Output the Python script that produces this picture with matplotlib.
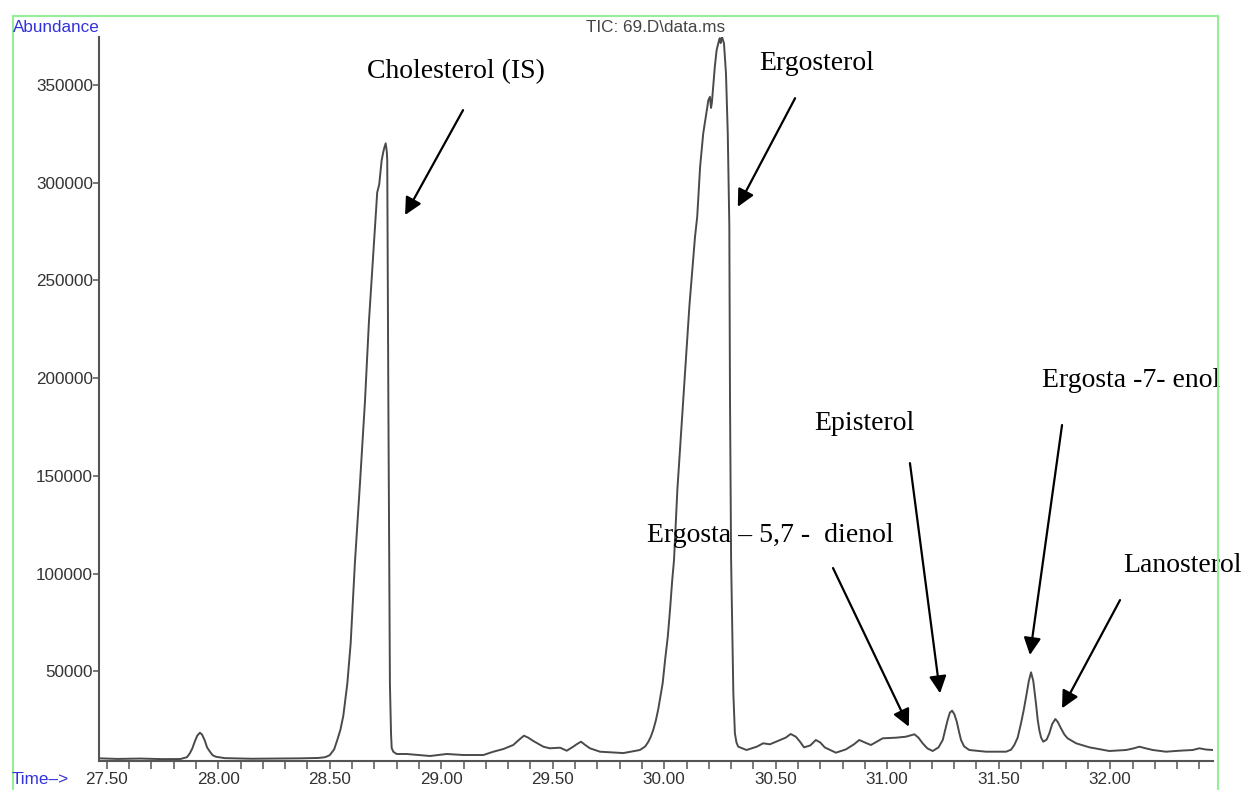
import matplotlib
matplotlib.use("Agg")
import matplotlib.pyplot as plt
from matplotlib.patches import Rectangle
from matplotlib.ticker import MultipleLocator

# ---- data (retention time in min, abundance) ----
time_min = [27.467, 27.55, 27.65, 27.75, 27.83, 27.86, 27.873, 27.884, 27.895, 27.906,
            27.918, 27.928, 27.94, 27.95, 27.963, 27.975, 27.99, 28.03, 28.15, 28.25,
            28.367, 28.45, 28.48, 28.50, 28.52, 28.534, 28.548, 28.561,
            28.579, 28.594, 28.613, 28.636, 28.658, 28.676, 28.699, 28.713, 28.722, 28.733,
            28.740, 28.745, 28.751, 28.756, 28.758, 28.763, 28.770, 28.775, 28.778, 28.785, 28.800,
            28.845, 28.950, 29.025, 29.099, 29.189, 29.234, 29.279, 29.323, 29.350, 29.371, 29.390,
            29.413, 29.458, 29.487, 29.533, 29.563, 29.592, 29.610, 29.627, 29.645, 29.667, 29.712,
            29.817, 29.891, 29.915, 29.929, 29.940, 29.951, 29.963, 29.974, 29.993, 30.004,
            30.016, 30.026, 30.036, 30.044, 30.059,
            30.086, 30.113, 30.138, 30.148, 30.161, 30.175, 30.198, 30.205, 30.210, 30.214,
            30.227, 30.235, 30.246, 30.249, 30.253, 30.259, 30.268, 30.277, 30.285, 30.292,
            30.295, 30.300, 30.305, 30.310, 30.317, 30.324, 30.332, 30.369, 30.415, 30.444, 30.474,
            30.519, 30.545, 30.567, 30.590, 30.609, 30.627, 30.655, 30.68, 30.70, 30.72, 30.77,
            30.815, 30.850, 30.875, 30.900, 30.927,
            30.980, 31.039, 31.084, 31.122, 31.140, 31.159, 31.180, 31.204, 31.230, 31.249,
            31.260, 31.271, 31.281, 31.291, 31.301, 31.312, 31.322, 31.331, 31.345, 31.368,
            31.443, 31.533, 31.555, 31.570, 31.585, 31.600, 31.612, 31.623, 31.635, 31.645,
            31.655, 31.667, 31.675, 31.682, 31.690, 31.700, 31.715, 31.727, 31.740, 31.754,
            31.765, 31.779, 31.795, 31.809, 31.847, 31.906, 31.996, 32.071, 32.105, 32.131,
            32.160, 32.191, 32.250, 32.310, 32.370, 32.400, 32.430, 32.460]
abundance = [5400, 5100, 5300, 5000, 5050, 6000, 8000, 10500, 14000, 17000,
             18500, 17500, 14500, 11000, 8800, 7000, 6200, 5500, 5200, 5300,
             5400, 5600, 6000, 7000, 10000, 14790, 20000, 27180,
             43660, 64280, 105480, 146680, 187880, 229130, 270330, 295050, 299150, 311530,
             315630, 318000, 320180, 316000, 311630, 187880, 43660, 18000, 10700, 8800, 7630,
             7630, 6600, 7630, 7110, 7110, 8800, 10180, 12230, 15000, 17000, 16000,
             14280, 11370, 10540, 10850, 9310, 11370, 12800, 13920, 12300, 10540, 8800,
             8100, 9670, 11500, 13920, 16500, 20000, 25000, 31000, 43810, 55740,
             67660, 81300, 96680, 106900, 142900,
             189900, 237000, 272200, 282600, 308200, 325300, 342300, 344000, 338300, 341300,
             359400, 367900, 373000, 374000, 371500, 374700, 371400, 356000, 325300, 278100,
             189900, 106900, 72800, 38700, 18200, 13500, 11370, 9670, 11370, 13100, 12590,
             14790, 16000, 17860, 16500, 13920, 11030, 12000, 14790, 13500, 11000, 8290,
             10000, 12500, 14790, 13500, 12230,
             15660, 15970, 16480, 17710, 16000, 13100, 10500, 9160, 11000, 14790,
             20000, 25030, 28800, 29790, 28000, 24160, 19000, 14790, 11500, 9670,
             8800, 8800, 9800, 12230, 16000, 23340, 30000, 36980, 45000, 49440,
             45000, 33570, 25000, 19900, 16000, 13920, 15000, 18200, 23000, 25540,
             24000, 20780, 17500, 15660, 13100, 11060, 9160, 9670, 10500, 11370,
             10500, 9670, 8800, 9300, 9670, 10540, 9900, 9670]

# ---- annotations ----
labels = ["Cholesterol (IS)", "Ergosterol", "Ergosta \u2013 5,7 -  dienol",
          "Episterol", "Ergosta -7- enol", "Lanosterol"]
label_t = [29.067, 30.685, 30.474, 30.896, 32.096, 32.322]
label_v = [356700, 361300, 119700, 177000, 199000, 104300]
arrow_tail_t = [29.098, 30.587, 30.757, 31.102, 31.784, 32.044]
arrow_tail_v = [337200, 343300, 102800, 156500, 176000, 86400]
arrow_tip_t = [28.838, 30.330, 31.097, 31.237, 31.640, 31.784]
arrow_tip_v = [283500, 287700, 21600, 38700, 58300, 31000]

x_major = [27.5, 28.0, 28.5, 29.0, 29.5, 30.0, 30.5, 31.0, 31.5, 32.0]
x_labels = ["27.50", "28.00", "28.50", "29.00", "29.50", "30.00", "30.50", "31.00", "31.50", "32.00"]
y_major = [50000, 100000, 150000, 200000, 250000, 300000, 350000]
y_labels = ["50000", "100000", "150000", "200000", "250000", "300000", "350000"]

W, H = 1246, 790
fig = plt.figure(figsize=(W / 100, H / 100), dpi=100)
fig.patch.set_facecolor("white")

# green frame
fig.add_artist(Rectangle((13 / W, -0.01), (1218 - 13) / W, 1 - 16 / H + 0.01,
                         transform=fig.transFigure, fill=False,
                         edgecolor="#98ee98", linewidth=1.5))

left, right, bottom, top = 99.3, 1212.7, 761, 37
ax = fig.add_axes([left / W, 1 - bottom / H, (right - left) / W, (bottom - top) / H])
ax.plot(time_min, abundance, color="#4a4a4a", linewidth=1.4)
ax.set_xlim(27.4668, 32.4596)
ax.set_ylim(4040, 374620)

for s in ["top", "right"]:
    ax.spines[s].set_visible(False)
for s in ["left", "bottom"]:
    ax.spines[s].set_color("#555555")
    ax.spines[s].set_linewidth(1.5)

sans = "Liberation Sans"
ax.set_xticks(x_major)
ax.set_xticklabels(x_labels, fontsize=12.3, family=sans, color="#333333")
ax.xaxis.set_minor_locator(MultipleLocator(0.1))
ax.set_yticks(y_major)
ax.set_yticklabels(y_labels, fontsize=12.3, family=sans, color="#333333")
ax.tick_params(axis="x", which="both", direction="out", length=6, width=1.1,
               color="#555555", pad=2)
ax.tick_params(axis="y", which="major", direction="out", length=4, width=1.1,
               color="#555555", pad=0.5)

# header texts
fig.text(13 / W, 1 - 27 / H, "Abundance", fontsize=12.3, family=sans,
         color="#3333dd", ha="left", va="center")
fig.text(12 / W, 1 - 779 / H, "Time\u2013>", fontsize=12.3, family=sans,
         color="#3333dd", ha="left", va="center")
fig.text(656 / W, 1 - 27 / H, "TIC: 69.D\\data.ms", fontsize=12.3, family=sans,
         color="#444444", ha="center", va="center")

# peak labels and arrows
for lab, lt, lv in zip(labels, label_t, label_v):
    ax.text(lt, lv, lab, fontsize=20, family="Liberation Serif", color="black",
            ha="center", va="center", clip_on=False)
for tt, tv, ht, hv in zip(arrow_tail_t, arrow_tail_v, arrow_tip_t, arrow_tip_v):
    ax.annotate("", xy=(ht, hv), xytext=(tt, tv),
                arrowprops=dict(arrowstyle="-|>", color="black", lw=1.6,
                                mutation_scale=26, shrinkA=0, shrinkB=0),
                annotation_clip=False)

fig.savefig("out.png", dpi=100, facecolor="white")
